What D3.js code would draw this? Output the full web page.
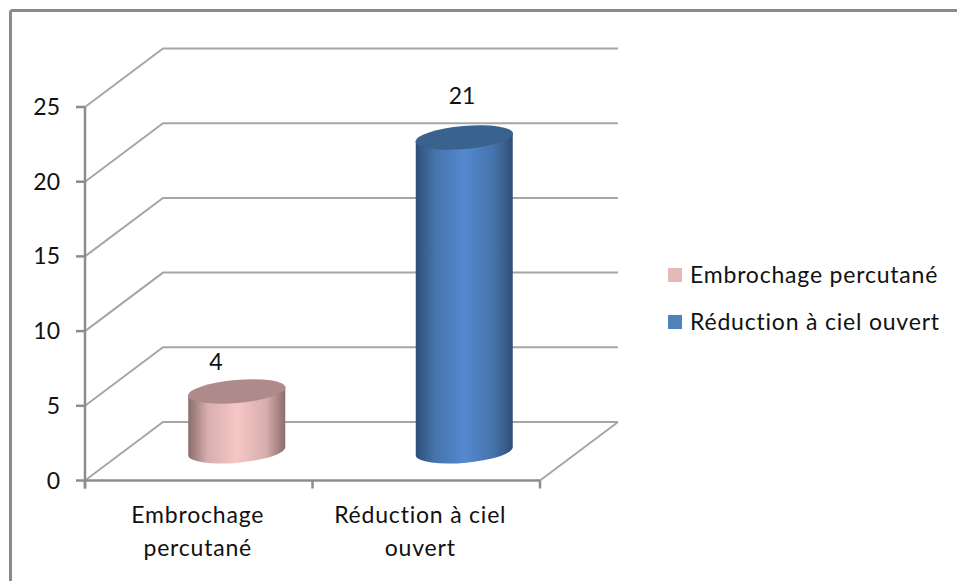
<!DOCTYPE html>
<html><head><meta charset="utf-8">
<script src="https://cdn.jsdelivr.net/npm/d3@7"></script>
<style>html,body{margin:0;padding:0;background:#fff}svg{display:block}text{font-family:Lato,sans-serif;fill:#111}</style>
</head><body><svg id="c" width="957" height="581"></svg>
<script>
const categories = ["Embrochage percutané", "Réduction à ciel ouvert"];
const categoryLines = [["Embrochage", "percutané"], ["Réduction à ciel", "ouvert"]];
const values = [4, 21];
const yTicks = [0, 5, 10, 15, 20, 25];
const topColors = ["#ae8a8a", "#3a628f"];
const sideEdge = ["#8a6c6c", "#2f4f78"];
const sideInner = ["#d9aeae", "#4674ac"];
const sideMid = ["#f6c6c6", "#5389cf"];
const legendColors = ["#e6b9b8", "#4f81bd"];

const svg = d3.select("#c");
const depth = {dx: 78, dy: -58.5};
const x = d3.scaleBand().domain(categories).range([85, 540]);
const y = d3.scaleLinear().domain([0, 25]).range([480.5, 107]);
const gridC = "#a6a6a6", axisC = "#8c8c8c";
const fs = 23, ls = 0.8;

svg.append("path").attr("d","M10.5,10.5H957").attr("stroke","#8a8a8a").attr("stroke-width",3).attr("fill","none");
svg.append("path").attr("d","M10.5,10.5V581").attr("stroke","#8a8a8a").attr("stroke-width",3).attr("fill","none");

yTicks.forEach(t=>{
  const y0=y(t);
  svg.append("path").attr("fill","none").attr("stroke",gridC).attr("stroke-width",2)
    .attr("d",d3.line()([[x.range()[0],y0],[x.range()[0]+depth.dx,y0+depth.dy],[x.range()[1]+depth.dx,y0+depth.dy]]));
});
svg.append("line").attr("x1",x.range()[1]).attr("y1",y(0)).attr("x2",x.range()[1]+depth.dx).attr("y2",y(0)+depth.dy)
  .attr("stroke",gridC).attr("stroke-width",2);
svg.append("line").attr("x1",85).attr("x2",85).attr("y1",y(25)).attr("y2",y(0)+8).attr("stroke",axisC).attr("stroke-width",2.5);
svg.append("line").attr("x1",85).attr("x2",x.range()[1]).attr("y1",y(0)).attr("y2",y(0)).attr("stroke",axisC).attr("stroke-width",2.5);
yTicks.forEach(t=>{
  svg.append("line").attr("x1",76).attr("x2",85).attr("y1",y(t)).attr("y2",y(t)).attr("stroke",axisC).attr("stroke-width",2.5);
  svg.append("text").attr("x",60).attr("y",y(t)+8).attr("text-anchor","end").attr("font-size",fs).text(t);
});
[0,1,2].forEach(i=>{
  const px=x.range()[0]+i*x.bandwidth();
  svg.append("line").attr("x1",px).attr("x2",px).attr("y1",y(0)).attr("y2",y(0)+8).attr("stroke",axisC).attr("stroke-width",2.5);
});
categoryLines.forEach((lines,i)=>{
  lines.forEach((s,j)=>svg.append("text").attr("x",x(categories[i])+x.bandwidth()/2+(i?-6:-1)).attr("y",523+j*33)
    .attr("text-anchor","middle").attr("font-size",fs).attr("letter-spacing",ls).text(s));
});

const defs=svg.append("defs");
const rx=48.5, ry=11.5, tilt=-5, lift=4.5;
categories.forEach((c,i)=>{
  const g=defs.append("linearGradient").attr("id","g"+i);
  [[0,sideEdge[i]],[.2,sideInner[i]],[.5,sideMid[i]],[.8,sideInner[i]],[1,sideEdge[i]]]
    .forEach(s=>g.append("stop").attr("offset",s[0]).attr("stop-color",s[1]));
  const cx=x(c)+x.bandwidth()/2+depth.dx/2-1;
  const yb=y(0)+depth.dy/2, yt=y(values[i])+depth.dy/2;
  svg.append("path").attr("fill",`url(#g${i})`)
    .attr("d",`M${cx-rx},${yt+lift}L${cx-rx},${yb+lift}A${rx},${ry} ${tilt} 0 0 ${cx+rx},${yb-lift}L${cx+rx},${yt-lift}Z`);
  svg.append("ellipse").attr("cx",cx).attr("cy",yt).attr("rx",rx+.5).attr("ry",ry)
    .attr("transform",`rotate(${tilt} ${cx} ${yt})`).attr("fill",topColors[i]);
  svg.append("text").attr("x",i?462:216).attr("y",yt-(i?34:21)).attr("text-anchor","middle").attr("font-size",fs).text(values[i]);
});

const ly=[275,322];
categories.forEach((c,i)=>{
  svg.append("rect").attr("x",668).attr("y",ly[i]-7).attr("width",14).attr("height",14).attr("fill",legendColors[i]);
  svg.append("text").attr("x",690).attr("y",ly[i]+8).attr("font-size",fs).attr("letter-spacing",ls).text(c);
});
</script></body></html>
